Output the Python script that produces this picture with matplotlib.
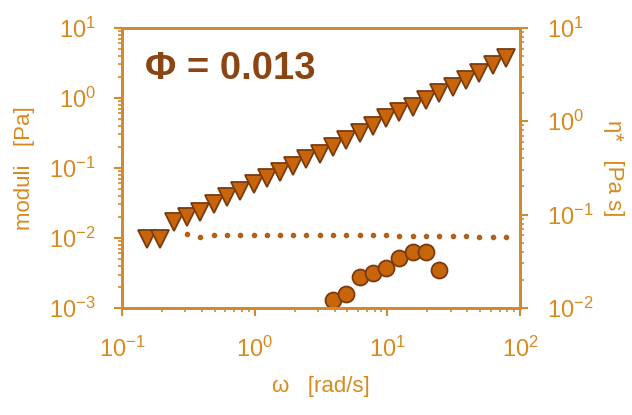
import numpy as np
import matplotlib
matplotlib.use("Agg")
import matplotlib.pyplot as plt

plt.rcParams['font.family'] = ['Liberation Sans', 'DejaVu Sans']

# frequency (rad/s)
omega = [0.155, 0.195, 0.245, 0.31, 0.39, 0.49, 0.62, 0.78, 0.98, 1.23,
         1.55, 1.95, 2.45, 3.1, 3.9, 4.9, 6.2, 7.8, 9.8, 12.3,
         15.5, 19.5, 24.5, 31, 39, 49, 62, 78]

# triangles (left axis, Pa)
g2 = [0.0098, 0.0097, 0.0168, 0.020, 0.0235, 0.030, 0.038, 0.047, 0.059, 0.072,
      0.087, 0.107, 0.135, 0.158, 0.20, 0.25, 0.31, 0.39, 0.51, 0.62,
      0.74, 0.93, 1.17, 1.45, 1.82, 2.29, 2.95, 3.7]

# circles (left axis, Pa)
omega_c = [3.9, 4.9, 6.2, 7.8, 9.8, 12.3, 15.5, 19.5, 24.5]
g1 = [0.0013, 0.0016, 0.0028, 0.0032, 0.0037, 0.0051, 0.0062, 0.0062, 0.0035]

# dotted line (right axis, Pa s)
omega_d = omega[3:]
eta = [0.062, 0.058, 0.061, 0.061, 0.061, 0.061, 0.061, 0.060, 0.060, 0.060,
       0.060, 0.060, 0.060, 0.060, 0.060, 0.060, 0.059, 0.059, 0.059, 0.059,
       0.059, 0.059, 0.058, 0.058, 0.058]

axis_col = '#D08A30'
tick_col = '#D88A1E'
fill_col = '#C8650A'
edge_col = '#7A3A10'

fig = plt.figure(figsize=(6.32, 4.15), dpi=100)
ax = fig.add_axes([0.193, 0.258, 0.630, 0.675])
ax2 = ax.twinx()

ax.plot(omega, g2, linestyle='none', marker='v', markersize=13,
        markerfacecolor=fill_col, markeredgecolor=edge_col, markeredgewidth=1.3)
ax.plot(omega_c, g1, linestyle='none', marker='o', markersize=11.5,
        markerfacecolor=fill_col, markeredgecolor=edge_col, markeredgewidth=1.3,
        clip_on=False)
ax2.plot(omega_d, eta, linestyle='none', marker='o', markersize=3,
         markerfacecolor='#B0601A', markeredgecolor='#B0601A')

ax.set_xscale('log')
ax.set_yscale('log')
ax2.set_yscale('log')
ax.set_xlim(0.1, 100)
ax.set_ylim(1e-3, 10)
ax2.set_ylim(1e-2, 10)

for a in (ax, ax2):
    for s in a.spines.values():
        s.set_color(axis_col)
        s.set_linewidth(2)
    a.tick_params(which='major', direction='out', length=6, width=1.5,
                  color=axis_col, labelcolor=tick_col, labelsize=17, pad=13)
    a.tick_params(which='minor', direction='out', length=3, width=1.2,
                  color=axis_col)
ax.tick_params(axis='x', pad=15)

ax.text(0.058, 0.852, 'Φ = 0.013', transform=ax.transAxes, fontsize=27.5,
        fontweight='bold', color='#8B4513', va='center', ha='left')

ax.set_ylabel('moduli   [Pa]', color=tick_col, fontsize=16, labelpad=10)
ax2.set_ylabel('η*   [Pa s]', color=tick_col, fontsize=16, rotation=-90,
               labelpad=22)
ax.set_xlabel('ω   [rad/s]', color=tick_col, fontsize=16, labelpad=10)

fig.savefig('out.png', dpi=100)
